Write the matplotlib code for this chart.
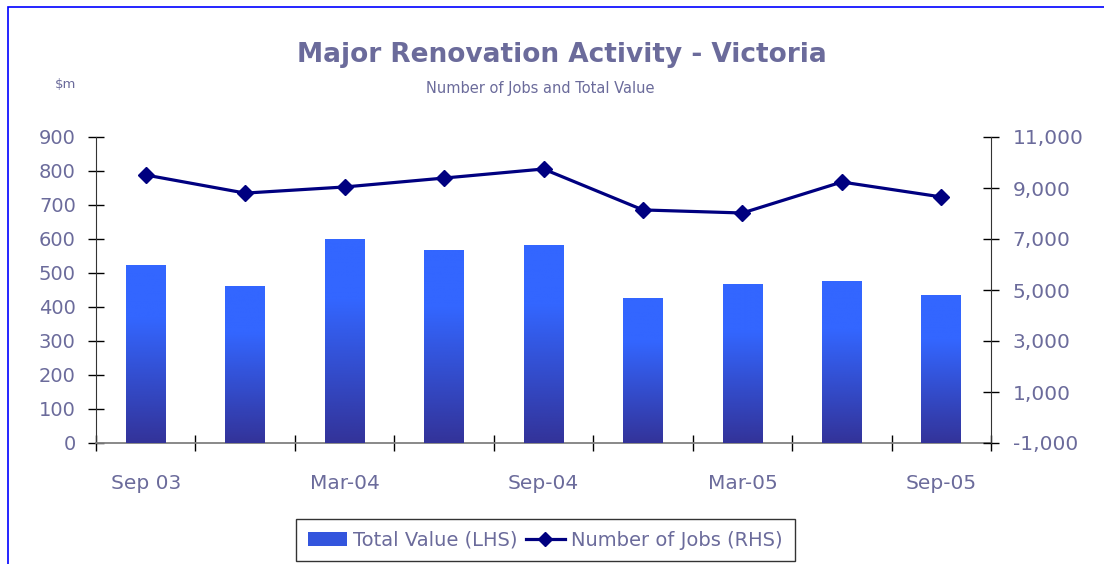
import matplotlib
matplotlib.use("Agg")
import matplotlib.pyplot as plt
import numpy as np
from matplotlib.colors import LinearSegmentedColormap
from matplotlib.lines import Line2D
from matplotlib.patches import Patch, Rectangle

# data
periods = ["Sep 03", "Dec 03", "Mar-04", "Jun 04", "Sep-04", "Dec 04", "Mar-05", "Jun 05", "Sep-05"]
tick_labels = ["Sep 03", "", "Mar-04", "", "Sep-04", "", "Mar-05", "", "Sep-05"]
total_value = [524, 462, 600, 568, 582, 427, 468, 476, 435]
num_jobs = [9510, 8800, 9040, 9390, 9745, 8140, 8020, 9235, 8650]

text_col = "#6B6B9B"
plt.rcParams['font.family'] = ['DejaVu Sans']

fig = plt.figure(figsize=(11.04, 5.64), dpi=100)
ax = fig.add_axes([96 / 1104, 1 - 443 / 564, (991 - 96) / 1104, 306 / 564])
ax2 = ax.twinx()

x = np.arange(len(periods))
bars = ax.bar(x, total_value, width=0.4, color="#3366FF", edgecolor="none", zorder=2)

# vertical gradient inside each bar
grad_cmap = LinearSegmentedColormap.from_list(
    "barfade", [(0, "#333399"), (0.7, "#3366FF"), (1, "#3366FF")])
grad = np.linspace(0, 1, 256).reshape(-1, 1)
for b in bars:
    bx, by = b.get_x(), b.get_y()
    bw, bh = b.get_width(), b.get_height()
    im = ax.imshow(grad, cmap=grad_cmap, origin="lower", aspect="auto",
                   extent=[bx, bx + bw, by, by + bh], zorder=3)
    im.set_clip_path(b)

ax.set_xlim(-0.5, len(periods) - 0.5)
ax.set_ylim(0, 900)
ax.set_yticks(np.arange(0, 901, 100))

ax2.plot(x, num_jobs, color="#000080", lw=2.3, marker="D", markersize=8, zorder=4)
ax2.set_ylim(-1000, 11000)
ax2.set_yticks(np.arange(-1000, 11001, 2000))
ax2.set_yticklabels([f"{v:,}" for v in range(-1000, 11001, 2000)])

# x ticks at category boundaries, labels centred under categories
ax.set_xticks(np.arange(-0.5, len(periods), 1.0))
ax.set_xticklabels([])
ax.set_xticks(x, minor=True)
ax.set_xticklabels(tick_labels, minor=True)
ax.tick_params(axis="x", which="minor", length=0, pad=22, labelsize=14.5, labelcolor=text_col)
ax.tick_params(axis="x", which="major", direction="inout", length=11, width=1, color="black")

for a in (ax, ax2):
    a.spines["top"].set_visible(False)
ax.spines["right"].set_visible(False)
ax2.spines["left"].set_visible(False)
ax2.spines["bottom"].set_visible(False)
ax.spines["bottom"].set_color("#808080")
ax.spines["bottom"].set_linewidth(1.3)
ax.spines["left"].set_color("#333333")
ax2.spines["right"].set_color("#333333")

ax.tick_params(axis="y", direction="inout", length=11, width=1, pad=9,
               labelsize=14, labelcolor=text_col)
ax2.tick_params(axis="y", direction="inout", length=11, width=1, pad=10,
                labelsize=14.5, labelcolor=text_col)
ax.set_zorder(1)
ax2.set_zorder(2)
ax2.patch.set_visible(False)

fig.text(562 / 1104, 1 - 55 / 564, "Major Renovation Activity - Victoria",
         ha="center", va="center", fontsize=19, color=text_col, fontweight="bold")
fig.text(540 / 1104, 1 - 89 / 564, "Number of Jobs and Total Value",
         ha="center", va="center", fontsize=10.5, color=text_col)
fig.text(66 / 1104, 1 - 85 / 564, "$m", ha="center", va="center", fontsize=9.5, color=text_col)

handles = [Patch(facecolor="#3355DD", edgecolor="none"),
           Line2D([], [], color="#000080", lw=2.3, marker="D", markersize=7)]
leg = fig.legend(handles, ["Total Value (LHS)", "Number of Jobs (RHS)"],
                 loc="upper left", bbox_to_anchor=(296 / 1104, 1 - 519 / 564),
                 borderaxespad=0, ncol=2, fontsize=14, frameon=True, fancybox=False,
                 handlelength=2.0, handletextpad=0.35, columnspacing=0.4,
                 borderpad=0.6, labelcolor=text_col)
leg.get_frame().set_edgecolor("black")
leg.get_frame().set_linewidth(1)

# blue outer border (left and top edges visible)
fig.patches.append(Rectangle((8 / 1104, -0.1), 1.2, 1 - 7 / 564 + 0.1, transform=fig.transFigure,
                             fill=False, edgecolor="#0000FF", lw=1.2))

fig.savefig("out.png", dpi=100)
